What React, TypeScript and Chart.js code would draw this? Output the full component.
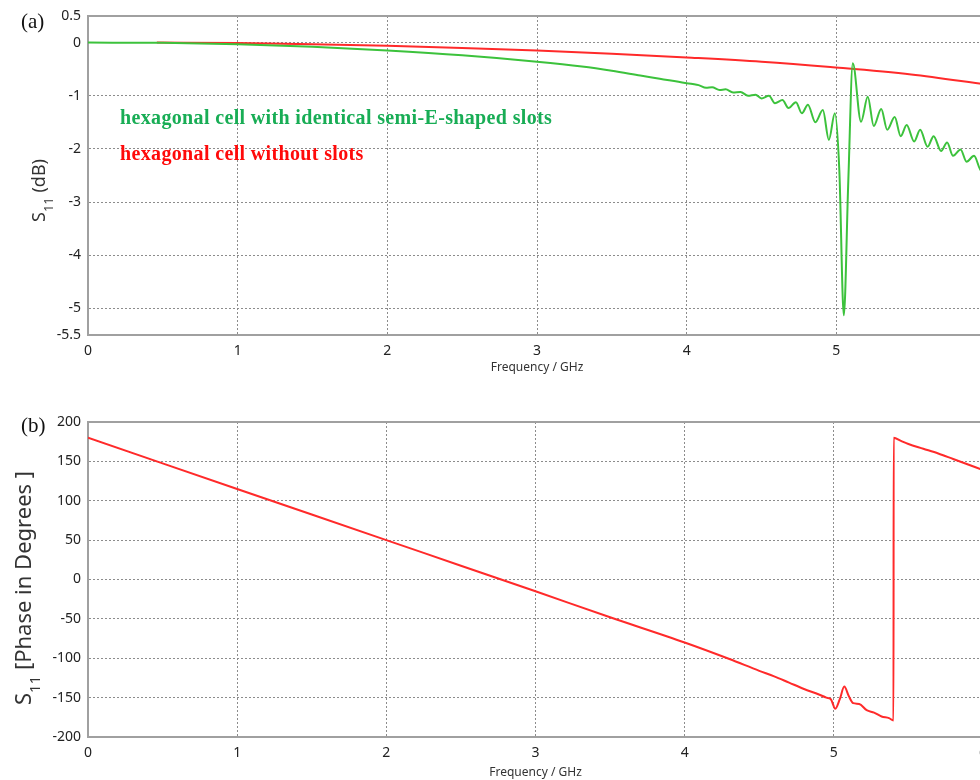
import React, { useEffect, useRef } from "react";
import { Chart, registerables } from "chart.js";

Chart.register(...registerables);

// ---------- data ----------
const freqTicks = [0, 1, 2, 3, 4, 5, 6];
const dbTicks = [0.5, 0, -1, -2, -3, -4, -5, -5.5];
const phaseTicks = [200, 150, 100, 50, 0, -50, -100, -150, -200];

const slottedLabel = "hexagonal cell with identical semi-E-shaped slots";
const plainLabel = "hexagonal cell without slots";

const slottedFreq = [
  0, 0.5, 1, 1.5, 2, 2.5, 3, 3.3, 3.5, 3.69, 3.82, 3.99, 4.04, 4.08, 4.13, 4.17, 4.22, 4.26, 4.31,
  4.36, 4.41, 4.46, 4.5, 4.55, 4.59, 4.64, 4.68, 4.73, 4.77, 4.81, 4.86, 4.91, 4.95, 4.99, 5.02,
  5.05, 5.08, 5.11, 5.165, 5.21, 5.25, 5.3, 5.34, 5.39, 5.43, 5.47, 5.52, 5.56, 5.61, 5.65, 5.7,
  5.74, 5.78, 5.83, 5.87, 5.92, 5.97, 6.0,
];
const slottedDb = [
  0, -0.005, -0.03, -0.08, -0.15, -0.24, -0.36, -0.45, -0.53, -0.62, -0.68, -0.76, -0.78, -0.8,
  -0.85, -0.84, -0.89, -0.88, -0.94, -0.93, -1.0, -0.98, -1.05, -1.0, -1.14, -1.08, -1.23, -1.12,
  -1.33, -1.17, -1.5, -1.27, -1.83, -1.33, -2.4, -5.13, -2.6, -0.39, -1.49, -1.02, -1.57, -1.25,
  -1.64, -1.4, -1.76, -1.55, -1.86, -1.64, -1.96, -1.76, -2.04, -1.88, -2.13, -2.01, -2.24, -2.13,
  -2.42, -2.36,
];

const plainFreq = [0.46, 1, 1.5, 2, 2.5, 3, 3.5, 4, 4.5, 4.96, 5.5, 6];
const plainDb = [0, -0.01, -0.03, -0.06, -0.1, -0.15, -0.21, -0.28, -0.36, -0.46, -0.6, -0.79];

const phaseFreq = [
  0, 0.5, 1, 1.5, 2, 2.5, 3, 3.5, 4, 4.3, 4.5, 4.6, 4.7, 4.8, 4.9, 4.95, 4.98, 5.01, 5.04, 5.07,
  5.1, 5.13, 5.17, 5.22, 5.27, 5.32, 5.37, 5.4, 5.401, 5.45, 5.5, 5.6, 5.7, 5.8, 5.9, 6.0,
];
const phaseDeg = [
  180, 147.5, 115, 82.5, 50, 17.5, -15, -48, -80, -101, -116, -123, -131, -139, -146, -150, -152,
  -164, -152, -136, -148, -157, -158, -166, -169, -174, -176, -179, 180, 176, 172, 166, 160, 153,
  146, 139,
];

// ---------- helpers ----------
const pts = (xs: number[], ys: number[]) => xs.map((x, i) => ({ x, y: ys[i] }));

const GRID = "#8c8c8c";
const AXIS = "#a0a0a0";
const TICK_FONT = { family: "'Noto Sans'", size: 14 };

type AxisLabel = { main: string; sub: string; rest: string; x: number; y: number; size: number; subSize: number; subShift: number };

const framePlugin = (label: AxisLabel) => ({
  id: "frameAndLabel",
  afterDraw(chart: any) {
    const { ctx, chartArea } = chart;
    ctx.save();
    ctx.strokeStyle = AXIS;
    ctx.lineWidth = 2;
    ctx.beginPath();
    ctx.moveTo(chartArea.left - 1, chartArea.top);
    ctx.lineTo(chartArea.right + 2, chartArea.top);
    ctx.stroke();
    ctx.translate(label.x, label.y);
    ctx.rotate(-Math.PI / 2);
    ctx.fillStyle = "#333";
    ctx.textAlign = "left";
    ctx.textBaseline = "alphabetic";
    ctx.font = `${label.size}px 'Noto Sans'`;
    ctx.fillText(label.main, 0, 0);
    let w = ctx.measureText(label.main).width;
    ctx.font = `${label.subSize}px 'Noto Sans'`;
    ctx.fillText(label.sub, w, label.subShift);
    w += ctx.measureText(label.sub).width;
    ctx.font = `${label.size}px 'Noto Sans'`;
    ctx.fillText(label.rest, w, 0);
    ctx.restore();
  },
});

function makeScales(opts: {
  yMin: number; yMax: number; yTicks: number[]; xHeight: number; tickPad: number; titlePad: number;
}) {
  return {
    x: {
      type: "linear",
      min: 0,
      max: 6,
      afterBuildTicks: (s: any) => { s.ticks = freqTicks.map((v) => ({ value: v })); },
      afterFit: (s: any) => { s.height = opts.xHeight; },
      ticks: { font: TICK_FONT, color: "#222", padding: opts.tickPad, autoSkip: false, maxRotation: 0 },
      grid: { color: GRID, lineWidth: 1, drawTicks: false },
      border: { color: AXIS, width: 2, dash: [2, 2] },
      title: {
        display: true,
        text: "Frequency / GHz",
        color: "#333",
        font: { family: "'Noto Sans'", size: 12 },
        padding: { top: 0, bottom: opts.titlePad },
      },
    },
    y: {
      type: "linear",
      min: opts.yMin,
      max: opts.yMax,
      afterBuildTicks: (s: any) => { s.ticks = opts.yTicks.map((v) => ({ value: v })); },
      afterFit: (s: any) => { s.width = 88; },
      ticks: { font: TICK_FONT, color: "#222", padding: 7, autoSkip: false },
      grid: { color: GRID, lineWidth: 1, drawTicks: false },
      border: { color: AXIS, width: 2, dash: [2, 2] },
    },
  };
}

function ChartCanvas({ config, top, width, height }: { config: any; top: number; width: number; height: number }) {
  const ref = useRef<HTMLCanvasElement | null>(null);
  useEffect(() => {
    if (!ref.current) return;
    const chart = new Chart(ref.current, config);
    return () => chart.destroy();
  }, []);
  return (
    <canvas
      ref={ref}
      width={width}
      height={height}
      style={{ position: "absolute", left: 0, top, width, height }}
    />
  );
}

const topConfig = {
  type: "scatter",
  data: {
    datasets: [
      {
        label: slottedLabel,
        data: pts(slottedFreq, slottedDb),
        showLine: true,
        borderColor: "#3cc23c",
        borderWidth: 2,
        pointRadius: 0,
        cubicInterpolationMode: "monotone",
      },
      {
        label: plainLabel,
        data: pts(plainFreq, plainDb),
        showLine: true,
        borderColor: "#ff2a2a",
        borderWidth: 2,
        pointRadius: 0,
        cubicInterpolationMode: "monotone",
      },
    ],
  },
  options: {
    responsive: false,
    animation: false,
    layout: { padding: { left: 0, top: 16, right: 24, bottom: 0 } },
    plugins: { legend: { display: false }, tooltip: { enabled: false } },
    scales: makeScales({ yMin: -5.5, yMax: 0.5, yTicks: dbTicks, xHeight: 55, tickPad: 8, titlePad: 15 }),
  },
  plugins: [framePlugin({ main: "S", sub: "11", rest: " (dB)", x: 45, y: 222, size: 18, subSize: 13, subShift: 8 })],
};

const bottomConfig = {
  type: "scatter",
  data: {
    datasets: [
      {
        label: "S11 phase",
        data: pts(phaseFreq, phaseDeg),
        showLine: true,
        borderColor: "#ff2a2a",
        borderWidth: 2,
        pointRadius: 0,
        cubicInterpolationMode: "monotone",
      },
    ],
  },
  options: {
    responsive: false,
    animation: false,
    layout: { padding: { left: 0, top: 32, right: 27, bottom: 0 } },
    plugins: { legend: { display: false }, tooltip: { enabled: false } },
    scales: makeScales({ yMin: -200, yMax: 200, yTicks: phaseTicks, xHeight: 43, tickPad: 8, titlePad: 0 }),
  },
  plugins: [framePlugin({ main: "S", sub: "11", rest: " [Phase in Degrees ]", x: 31, y: 315, size: 22, subSize: 15, subShift: 9 })],
};

const serif = "'Liberation Serif', 'Times New Roman', serif";

export default function App() {
  return (
    <div
      style={{
        position: "fixed",
        left: 0,
        top: 0,
        width: 980,
        height: 780,
        overflow: "hidden",
        background: "#fff",
      }}
    >
      <ChartCanvas config={topConfig} top={0} width={1010} height={390} />
      <ChartCanvas config={bottomConfig} top={390} width={1010} height={390} />
      <div style={{ position: "absolute", left: 21, top: 9, fontFamily: serif, fontSize: 21, lineHeight: "24px", color: "#111" }}>(a)</div>
      <div style={{ position: "absolute", left: 21, top: 413, fontFamily: serif, fontSize: 21, lineHeight: "24px", color: "#111" }}>(b)</div>
      <div style={{ position: "absolute", left: 120, top: 105, fontFamily: serif, fontWeight: "bold", fontSize: 20, letterSpacing: "0.35px", lineHeight: "24px", color: "#18ad55", whiteSpace: "nowrap" }}>
        {slottedLabel}
      </div>
      <div style={{ position: "absolute", left: 120, top: 141, fontFamily: serif, fontWeight: "bold", fontSize: 20, letterSpacing: "0.35px", lineHeight: "24px", color: "#ff0a0a", whiteSpace: "nowrap" }}>
        {plainLabel}
      </div>
    </div>
  );
}
